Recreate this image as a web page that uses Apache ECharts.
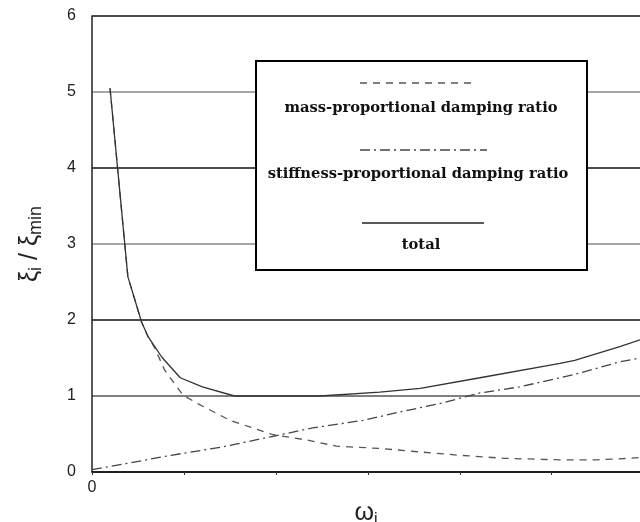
<!DOCTYPE html>
<html><head><meta charset="utf-8">
<script src="https://cdn.jsdelivr.net/npm/echarts/dist/echarts.min.js"></script>
<style>html,body{margin:0;padding:0;background:#fff}#c{width:640px;height:522px}</style>
</head><body><div id="c"></div>
<script>
// ω_i positions and ξ_i/ξ_min values
var totalX = [0.196, 0.39, 0.54, 0.61, 0.76, 0.96, 1.20, 1.55, 2.48, 3.13, 3.57, 4.22, 5.09, 5.25, 5.74, 5.96];
var totalY = [5.05, 2.57, 1.97, 1.78, 1.51, 1.24, 1.12, 1.00, 1.00, 1.05, 1.10, 1.24, 1.43, 1.47, 1.65, 1.74];
var massX = [0.196, 0.39, 0.54, 0.61, 0.68, 0.79, 0.99, 1.15, 1.50, 1.97, 2.34, 2.66, 3.13, 3.51, 4.00, 4.48, 5.09, 5.49, 5.85, 5.96];
var massY = [5.05, 2.57, 1.97, 1.78, 1.64, 1.34, 1.01, 0.90, 0.68, 0.49, 0.42, 0.34, 0.31, 0.27, 0.22, 0.18, 0.16, 0.16, 0.18, 0.19];
var stiffX = [0.0, 0.41, 0.86, 1.42, 1.97, 2.40, 2.95, 3.35, 3.78, 4.22, 4.65, 5.09, 5.30, 5.74, 5.96];
var stiffY = [0.03, 0.12, 0.22, 0.33, 0.47, 0.58, 0.68, 0.79, 0.90, 1.04, 1.12, 1.24, 1.30, 1.45, 1.50];
var yTicks = ['0', '1', '2', '3', '4', '5', '6'];
var legendNames = ['mass-proportional damping ratio', 'stiffness-proportional damping ratio', 'total'];

function pairs(xs, ys) { return xs.map(function (x, i) { return [x, ys[i]]; }); }

var chart = echarts.init(document.getElementById('c'), null, {renderer: 'canvas'});
var serifFont = 'bold 14.7px "DejaVu Serif", "Liberation Serif", serif';
chart.setOption({
  animation: false,
  backgroundColor: '#fff',
  grid: {left: 92, right: 0, top: 16, bottom: 50, containLabel: false, outerBoundsMode: 'none'},
  xAxis: {
    type: 'value', min: 0, max: 5.96, interval: 1,
    name: '{w|ω}{s|i}', nameLocation: 'middle', nameGap: 21,
    nameTextStyle: {rich: {
      w: {fontSize: 25, fontFamily: 'Liberation Sans', color: '#222'},
      s: {fontSize: 16, fontFamily: 'Liberation Sans', color: '#222', padding: [12, 0, 0, 0]}
    }},
    axisLine: {show: true, lineStyle: {color: '#111', width: 1.5}},
    axisTick: {show: true, length: 3, lineStyle: {color: '#333'}},
    axisLabel: {show: true, fontSize: 16, color: '#222', fontFamily: 'Liberation Sans', margin: 8,
      showMaxLabel: false,
      formatter: function (v) { return v === 0 ? '0' : ''; }},
    splitLine: {show: false}
  },
  yAxis: {
    type: 'value', min: 0, max: 6, interval: 1,
    name: '{a|ξ}{s|i}{a| / ξ}{s|min}', nameLocation: 'middle', nameGap: 47,
    nameTextStyle: {rich: {
      a: {fontSize: 25, fontFamily: 'Liberation Sans', color: '#222'},
      s: {fontSize: 18, fontFamily: 'Liberation Sans', color: '#222', padding: [12, 0, 0, 0]}
    }},
    axisLine: {show: true, lineStyle: {color: '#222', width: 1.5}},
    axisTick: {show: false},
    axisLabel: {fontSize: 16, color: '#222', fontFamily: 'Liberation Sans', margin: 16,
      formatter: function (v) { return yTicks[Math.round(v)]; }},
    splitLine: {show: true, lineStyle: {width: 1.5, color: ['#111', '#555', '#111', '#888', '#111', '#888', '#111']}}
  },
  series: [
    {type: 'line', name: legendNames[0], data: pairs(massX, massY), symbol: 'none', z: 3,
      lineStyle: {color: '#555', width: 1.3, type: [7, 6]}},
    {type: 'line', name: legendNames[1], data: pairs(stiffX, stiffY), symbol: 'none', z: 3,
      lineStyle: {color: '#444', width: 1.3, type: [10, 4, 2, 4]}},
    {type: 'line', name: legendNames[2], data: pairs(totalX, totalY), symbol: 'none', z: 4,
      lineStyle: {color: '#333', width: 1.3}}
  ],
  graphic: [
    {type: 'rect', z: 100, shape: {x: 256, y: 61, width: 331, height: 209},
      style: {fill: '#fff', stroke: '#000', lineWidth: 2}},
    {type: 'line', z: 101, shape: {x1: 360, y1: 83, x2: 477, y2: 83},
      style: {stroke: '#555', lineWidth: 1.3, lineDash: [7, 6]}},
    {type: 'text', z: 101, x: 421, y: 108, style: {text: legendNames[0], font: serifFont, fill: '#111', align: 'center', verticalAlign: 'middle'}},
    {type: 'line', z: 101, shape: {x1: 360, y1: 150, x2: 487, y2: 150},
      style: {stroke: '#444', lineWidth: 1.3, lineDash: [10, 4, 2, 4]}},
    {type: 'text', z: 101, x: 418, y: 174, style: {text: legendNames[1], font: serifFont, fill: '#111', align: 'center', verticalAlign: 'middle'}},
    {type: 'line', z: 101, shape: {x1: 362, y1: 223, x2: 484, y2: 223},
      style: {stroke: '#222', lineWidth: 1.3}},
    {type: 'text', z: 101, x: 421, y: 245, style: {text: legendNames[2], font: serifFont, fill: '#111', align: 'center', verticalAlign: 'middle'}}
  ]
});
</script></body></html>
